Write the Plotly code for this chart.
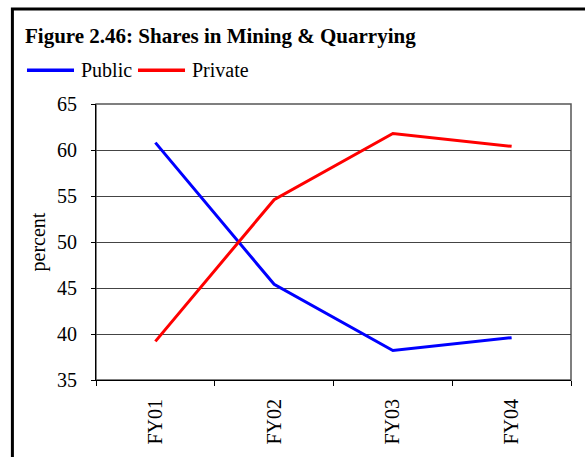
import plotly.graph_objects as go

years = ["FY01", "FY02", "FY03", "FY04"]
public = [60.8, 45.4, 38.2, 39.6]
private = [39.2, 54.6, 61.8, 60.4]
series_names = ["Public", "Private"]
series_colors = ["#0000FF", "#FF0000"]

FONT = "Liberation Serif"
SIZE = 20

fig = go.Figure()
for name, vals, col in zip(series_names, [public, private], series_colors):
    fig.add_trace(go.Scatter(x=years, y=vals, name=name, mode="lines",
                             line=dict(color=col, width=3), showlegend=False))

fig.update_layout(
    width=585, height=457,
    margin=dict(l=96, r=14, t=104, b=74),
    paper_bgcolor="white", plot_bgcolor="white",
    font=dict(family=FONT, size=SIZE, color="black"),
    xaxis=dict(type="category", tickson="boundaries", ticks="outside", ticklen=5,
               tickcolor="black", tickangle=-90, showline=True, linecolor="black",
               linewidth=1, showgrid=False, range=[-0.5, 3.5],
               ticklabelstandoff=10,
               tickfont=dict(family=FONT, size=SIZE, color="black")),
    yaxis=dict(range=[35, 65], dtick=5, showgrid=True, gridcolor="#444444",
               gridwidth=1, showline=True, linecolor="black", linewidth=1,
               ticks="outside", ticklen=4, tickcolor="black",
               ticklabelstandoff=10,
               title=dict(text="percent", font=dict(family=FONT, size=SIZE), standoff=6),
               tickfont=dict(family=FONT, size=SIZE, color="black"), zeroline=False),
)

# plot area border (top/right)
fig.add_shape(type="rect", xref="paper", yref="paper", x0=0, y0=0, x1=1, y1=1,
              line=dict(color="#555555", width=1.5), layer="below")
# outer figure frame
fig.add_shape(type="rect", xref="paper", yref="paper", x0=-0.176, y0=-0.6,
              x1=1.2, y1=1.344, line=dict(color="black", width=3))

# legend drawn as line samples + labels in a single row
legend_items = [(-0.1453, -0.0463, -0.0358), (0.0884, 0.1874, 0.1979)]
ly = 1.122
for (xa, xb, xt), name, col in zip(legend_items, series_names, series_colors):
    fig.add_shape(type="line", xref="paper", yref="paper", x0=xa, x1=xb, y0=ly, y1=ly,
                  line=dict(color=col, width=3.5))
    fig.add_annotation(text=name, xref="paper", yref="paper", x=xt, y=ly,
                       xanchor="left", yanchor="middle", showarrow=False,
                       font=dict(size=SIZE, family=FONT))

fig.add_annotation(text="<b>Figure 2.46: Shares in Mining & Quarrying</b>",
                   xref="paper", yref="paper", x=-0.153, y=1.247,
                   xanchor="left", yanchor="middle", showarrow=False,
                   font=dict(size=21, family=FONT))

fig.write_html("out.html")
